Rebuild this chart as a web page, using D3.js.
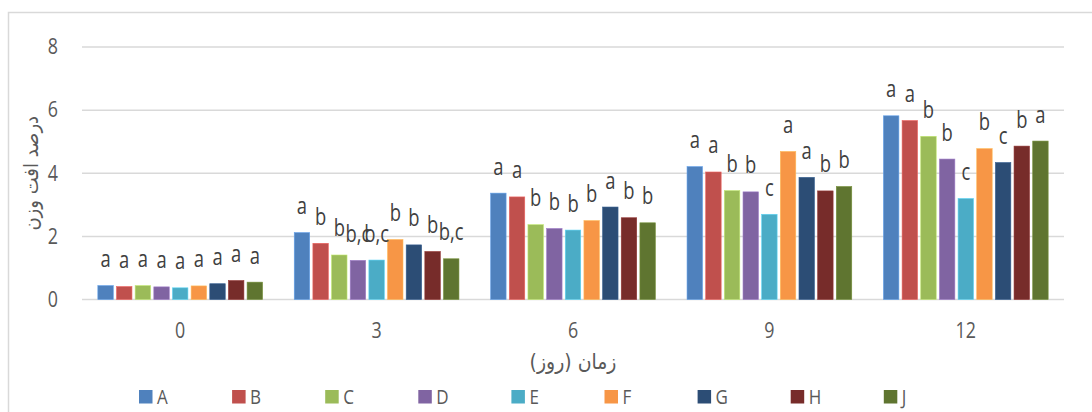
<!DOCTYPE html>
<html>
<head>
<meta charset="utf-8">
<script src="https://cdn.jsdelivr.net/npm/d3@7"></script>
<style>
  html, body { margin: 0; padding: 0; background: #fff; }
  svg { display: block; }
  .lat { font-family: "Open Sans", "Liberation Sans", sans-serif; }
  .fa { font-family: "DejaVu Sans", "Noto Sans", sans-serif; }
</style>
</head>
<body>
<svg id="chart" width="1092" height="412"></svg>
<script>
// ---- data ----
const categories = ["0", "3", "6", "9", "12"];
const seriesNames = ["A", "B", "C", "D", "E", "F", "G", "H", "J"];
const A = [0.44, 2.12, 3.37, 4.21, 5.82];
const B = [0.41, 1.78, 3.25, 4.04, 5.67];
const C = [0.44, 1.41, 2.37, 3.45, 5.17];
const D = [0.40, 1.24, 2.25, 3.41, 4.45];
const E = [0.37, 1.25, 2.20, 2.70, 3.20];
const F = [0.43, 1.90, 2.50, 4.69, 4.78];
const G = [0.50, 1.73, 2.93, 3.87, 4.34];
const H = [0.60, 1.52, 2.59, 3.44, 4.86];
const J = [0.55, 1.29, 2.43, 3.58, 5.02];
const seriesValues = [A, B, C, D, E, F, G, H, J];
// significance letters per category (rows) and series (columns)
const letters0  = ["a", "a", "a", "a", "a", "a", "a", "a", "a"];
const letters3  = ["a", "b", "b", "b,c", "b,c", "b", "b", "b", "b,c"];
const letters6  = ["a", "a", "b", "b", "b", "b", "a", "b", "b"];
const letters9  = ["a", "a", "b", "b", "c", "a", "a", "b", "b"];
const letters12 = ["a", "a", "b", "b", "c", "b", "c", "b", "a"];
const lettersByCat = [letters0, letters3, letters6, letters9, letters12];
const yTicks = [0, 2, 4, 6, 8];
const colors = ["#4F81BD", "#C0504D", "#9BBB59", "#8064A2", "#4BACC6", "#F79646", "#2C4D75", "#772C2A", "#5F7530"];
const xTitle = "زمان (روز)";
const yTitle = "درصد افت وزن";

// ---- layout ----
const svg = d3.select("#chart");
const plot = { left: 82, right: 1064, top: 47, bottom: 299.5 };

// chart border
svg.append("rect").attr("x", 8.5).attr("y", 12.5).attr("width", 1200).attr("height", 500)
  .attr("fill", "none").attr("stroke", "#d9d9d9").attr("stroke-width", 1.5);

const y = d3.scaleLinear().domain([0, 8]).range([plot.bottom, plot.top]);
const x0 = d3.scaleBand().domain(categories).range([plot.left, plot.right])
  .paddingInner(0.145).paddingOuter(0.0725);
const x1 = d3.scaleBand().domain(seriesNames).range([0, x0.bandwidth()]);
const color = d3.scaleOrdinal().domain(seriesNames).range(colors);

// gridlines
svg.append("g").selectAll("line").data(yTicks).join("line")
  .attr("x1", plot.left).attr("x2", plot.right)
  .attr("y1", d => y(d)).attr("y2", d => y(d))
  .attr("stroke", "#d9d9d9").attr("stroke-width", 1.5);

// y tick labels
svg.append("g").attr("class", "lat").selectAll("text").data(yTicks).join("text")
  .attr("transform", d => `translate(58, ${y(d)}) scale(0.85, 1)`)
  .attr("dy", "0.35em")
  .attr("text-anchor", "end").attr("font-size", 21).attr("fill", "#595959")
  .text(d => d);

// x tick labels
svg.append("g").attr("class", "lat").selectAll("text").data(categories).join("text")
  .attr("transform", d => `translate(${x0(d) + x0.bandwidth() / 2}, 331) scale(0.85, 1)`)
  .attr("dy", "0.35em")
  .attr("text-anchor", "middle").attr("font-size", 21).attr("fill", "#595959")
  .text(d => d);

// bars
const rows = [];
categories.forEach((c, ci) => {
  seriesNames.forEach((s, si) => {
    rows.push({ cat: c, ser: s, v: seriesValues[si][ci], lab: lettersByCat[ci][si] });
  });
});
const bw = x1.bandwidth();
svg.append("g").selectAll("rect").data(rows).join("rect")
  .attr("x", d => x0(d.cat) + x1(d.ser) + 1.6)
  .attr("width", bw - 3.2)
  .attr("y", d => y(d.v))
  .attr("height", d => y(0) - y(d.v))
  .attr("fill", d => color(d.ser))
  .attr("stroke", d => d3.color(color(d.ser)).brighter(0.6))
  .attr("stroke-width", 0.6);

// letter labels
svg.append("g").attr("class", "lat").selectAll("text").data(rows).join("text")
  .attr("transform", d => `translate(${x0(d.cat) + x1(d.ser) + bw / 2}, ${y(d.v) - 18.5}) scale(0.8, 1)`)
  .attr("text-anchor", "middle").attr("font-size", 23).attr("fill", "#404040")
  .text(d => d.lab);

// axis titles
svg.append("text").attr("class", "fa")
  .attr("transform", `translate(${(plot.left + plot.right) / 2}, 362) scale(0.9, 1)`)
  .attr("dy", "0.35em")
  .attr("text-anchor", "middle").attr("font-size", 21).attr("fill", "#595959")
  .text(xTitle);
svg.append("text").attr("class", "fa")
  .attr("transform", `translate(31, ${(plot.top + plot.bottom) / 2}) rotate(-90) scale(0.9, 1)`)
  .attr("dy", "0.35em")
  .attr("text-anchor", "middle").attr("font-size", 20).attr("fill", "#595959")
  .text(yTitle);

// legend
const leg = svg.append("g").selectAll("g").data(seriesNames).join("g")
  .attr("transform", (d, i) => `translate(${139 + i * 93.1}, 390)`);
leg.append("rect").attr("width", 13.5).attr("height", 13.5).attr("fill", d => color(d));
leg.append("text").attr("class", "lat")
  .attr("transform", "translate(18, 7) scale(0.85, 1)").attr("dy", "0.35em")
  .attr("font-size", 20).attr("fill", "#595959").text(d => d);
</script>
</body>
</html>
